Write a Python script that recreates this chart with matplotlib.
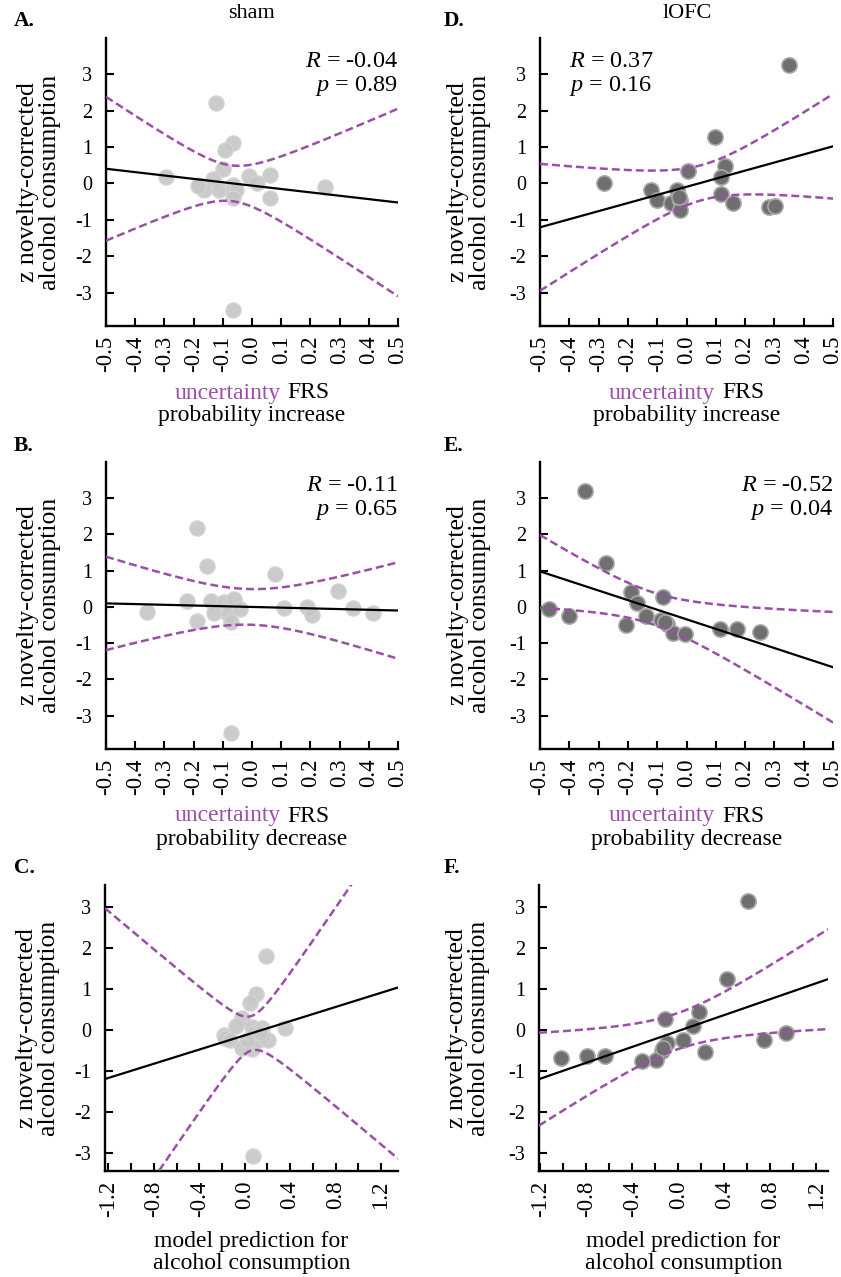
import numpy as np
import matplotlib
matplotlib.use("Agg")
import matplotlib.pyplot as plt
from matplotlib.offsetbox import TextArea, HPacker, AnnotationBbox

plt.rcParams['font.family'] = ['Liberation Serif', 'DejaVu Serif']
plt.rcParams['mathtext.fontset'] = 'custom'
plt.rcParams['mathtext.rm'] = 'Liberation Serif'
plt.rcParams['mathtext.it'] = 'Liberation Serif:italic'
plt.rcParams['axes.unicode_minus'] = False

# sham group
sham_inc_x = [-0.123, -0.065, -0.094, -0.100, -0.294, -0.134, -0.180, -0.163, -0.186, -0.113,
              -0.065, -0.065, -0.054, -0.065, -0.010, 0.018, 0.061, 0.061, 0.250, -0.065]
sham_inc_y = [2.21, 1.10, 0.92, 0.41, 0.18, 0.12, -0.05, -0.18, -0.07, -0.18,
              -0.05, -0.18, -0.17, -0.41, 0.21, 0.00, 0.23, -0.41, -0.11, -3.48]
sham_dec_x = [-0.190, -0.153, 0.080, 0.295, -0.224, -0.142, -0.097, -0.063, -0.361, -0.131,
              -0.083, -0.042, -0.072, -0.190, 0.108, 0.188, 0.207, 0.347, 0.415, -0.072]
sham_dec_y = [2.19, 1.14, 0.90, 0.44, 0.17, 0.17, 0.14, 0.21, -0.14, -0.17,
              -0.20, -0.06, -0.42, -0.40, -0.03, 0.00, -0.23, -0.03, -0.17, -3.47]
sham_mod_x = [0.186, 0.099, 0.049, -0.023, -0.075, 0.064, 0.151, -0.183, -0.177, -0.125,
              -0.023, 0.064, 0.122, 0.209, 0.078, 0.165, 0.359, 0.070, 0.020, 0.136]
sham_mod_y = [1.81, 0.88, 0.67, 0.30, 0.10, 0.08, 0.04, -0.12, -0.19, -0.24,
              -0.43, -0.45, -0.24, -0.23, -0.08, -0.15, 0.06, -3.07, -0.24, -0.08]

# lOFC group
lofc_inc_x = [0.349, 0.097, 0.132, 0.118, 0.006, -0.281, -0.120, -0.100, -0.031, -0.052,
              -0.021, -0.021, 0.118, 0.158, 0.281, 0.301, -0.026]
lofc_inc_y = [3.25, 1.27, 0.48, 0.18, 0.34, 0.00, -0.18, -0.46, -0.18, -0.55,
              -0.46, -0.74, -0.29, -0.55, -0.66, -0.63, -0.37]
lofc_dec_x = [-0.346, -0.274, -0.468, -0.400, -0.188, -0.170, -0.205, -0.137, -0.080, -0.088,
              -0.065, -0.046, -0.006, 0.114, 0.174, 0.252, -0.074]
lofc_dec_y = [3.19, 1.21, -0.05, -0.25, 0.41, 0.11, -0.51, -0.25, 0.28, -0.35,
              -0.46, -0.72, -0.76, -0.62, -0.62, -0.69, -0.41]
lofc_mod_x = [0.609, 0.420, 0.183, 0.130, -0.116, 0.043, -0.096, -0.145, -0.194, -0.313,
              0.232, 0.748, 0.936, -1.020, -0.797, -0.638, -0.130]
lofc_mod_y = [3.14, 1.24, 0.45, 0.10, 0.28, -0.24, -0.32, -0.51, -0.73, -0.75,
              -0.53, -0.24, -0.06, -0.67, -0.62, -0.62, -0.43]

stats_text = {'A': ('-0.04', '0.89'), 'D': ('0.37', '0.16'),
              'B': ('-0.11', '0.65'), 'E': ('-0.52', '0.04')}

PURPLE = '#9b4fa9'
W, H = 841, 1277
LABEL_FS = 17
YLABEL_FS = 18.5


def frac(left, top, right, bottom):
    return [left / W, 1 - bottom / H, (right - left) / W, (bottom - top) / H]


def fit_band(ax, x, y, xlim):
    x = np.asarray(x)
    y = np.asarray(y)
    n = len(x)
    slope, icpt = np.polyfit(x, y, 1)
    resid = y - (slope * x + icpt)
    s = np.sqrt(np.sum(resid ** 2) / (n - 2))
    sxx = np.sum((x - x.mean()) ** 2)
    t = 2.10 if n > 18 else 2.13
    xs = np.linspace(xlim[0], xlim[1], 200)
    yh = slope * xs + icpt
    half = t * s * np.sqrt(1 / n + (xs - x.mean()) ** 2 / sxx)
    ax.plot(xs, yh, color='black', lw=1.6, zorder=3)
    ax.plot(xs, yh + half, color=PURPLE, lw=1.8, ls=(0, (3.2, 1.6)), zorder=3)
    ax.plot(xs, yh - half, color=PURPLE, lw=1.8, ls=(0, (3.2, 1.6)), zorder=3)


def panel(rect, x, y, sham, xlim, ylim, xticks, xticklabels, kind, stats=None,
          stats_left=False, ylab_x=-0.228):
    ax = fig.add_axes(rect)
    if sham:
        ax.scatter(x, y, s=120, color='#c6c6c6', edgecolor='#d4d4d4', lw=1, alpha=0.9, zorder=2)
    else:
        ax.scatter(x, y, s=120, color='#6f6f6f', edgecolor='#a8a8a8', lw=1.2, zorder=2)
    fit_band(ax, x, y, xlim)
    ax.set_xlim(*xlim)
    ax.set_ylim(*ylim)
    for sp in ['top', 'right']:
        ax.spines[sp].set_visible(False)
    for sp in ['left', 'bottom']:
        ax.spines[sp].set_linewidth(1.7)
    ax.set_yticks([-3, -2, -1, 0, 1, 2, 3])
    ax.set_xticks(xticks)
    ax.set_xticklabels(xticklabels, rotation=90, fontsize=16.5)
    ax.tick_params(axis='both', direction='in', length=6, width=1.5)
    ax.tick_params(axis='y', labelsize=14.5, pad=10)
    ax.tick_params(axis='x', pad=7)
    ax.text(ylab_x, 0.5, 'z novelty-corrected\nalcohol consumption', rotation=90,
            ha='center', va='center', fontsize=YLABEL_FS, linespacing=1.0, transform=ax.transAxes)
    if kind == 'model':
        ax.annotate('model prediction for', (0.5, 0), xycoords='axes fraction',
                    xytext=(0, -70), textcoords='offset pixels', ha='center', va='center',
                    fontsize=LABEL_FS)
        ax.annotate('alcohol consumption', (0.5, 0), xycoords='axes fraction',
                    xytext=(0, -92), textcoords='offset pixels', ha='center', va='center',
                    fontsize=LABEL_FS)
    else:
        parts = HPacker(children=[TextArea('uncertainty', textprops=dict(color=PURPLE, fontsize=LABEL_FS)),
                                  TextArea('FRS', textprops=dict(color='black', fontsize=LABEL_FS))],
                        align='baseline', pad=0, sep=5)
        ab = AnnotationBbox(parts, (0.5, 0), xycoords='axes fraction', xybox=(0, -67),
                            boxcoords='offset pixels', box_alignment=(0.5, 0.5), frameon=False)
        ax.add_artist(ab)
        ax.annotate('probability ' + kind, (0.5, 0), xycoords='axes fraction',
                    xytext=(0, -90), textcoords='offset pixels', ha='center', va='center',
                    fontsize=LABEL_FS)
    if stats:
        r, p = stats
        txt = '$R$ = ' + r + '\n$p$ = ' + p
        if stats_left:
            ax.text(0.1, 0.955, txt, ha='left', va='top', fontsize=17.5,
                    linespacing=1.1, transform=ax.transAxes)
        else:
            ax.text(1.0, 0.955, txt, ha='right', va='top', fontsize=17.5,
                    linespacing=1.1, multialignment='right', transform=ax.transAxes)
    return ax


fig = plt.figure(figsize=(W / 100, H / 100), dpi=100)

frs_ticks = [-0.5, -0.4, -0.3, -0.2, -0.1, 0.0, 0.1, 0.2, 0.3, 0.4, 0.5]
frs_labels = ['%.1f' % v for v in frs_ticks]
mod_ticks = [-1.2, -1.0, -0.8, -0.6, -0.4, -0.2, 0.0, 0.2, 0.4, 0.6, 0.8, 1.0, 1.2]
mod_labels = ['%.1f' % v if i % 2 == 0 else '' for i, v in enumerate(mod_ticks)]

frs_lim = (-0.5, 0.5)
frs_ylim = (-3.92, 4.0)
mod_ylim = (-3.43, 3.53)

panel(frac(106, 38, 398, 326), sham_inc_x, sham_inc_y, True, frs_lim, frs_ylim,
      frs_ticks, frs_labels, 'increase', stats_text['A'])
panel(frac(540, 38, 833, 326), lofc_inc_x, lofc_inc_y, False, frs_lim, frs_ylim,
      frs_ticks, frs_labels, 'increase', stats_text['D'], stats_left=True, ylab_x=-0.244)
panel(frac(106, 462, 398, 749), sham_dec_x, sham_dec_y, True, frs_lim, frs_ylim,
      frs_ticks, frs_labels, 'decrease', stats_text['B'])
panel(frac(540, 462, 833, 749), lofc_dec_x, lofc_dec_y, False, frs_lim, frs_ylim,
      frs_ticks, frs_labels, 'decrease', stats_text['E'], ylab_x=-0.244)
panel(frac(105, 885, 398, 1171), sham_mod_x, sham_mod_y, True, (-1.23, 1.35), mod_ylim,
      mod_ticks, mod_labels, 'model')
panel(frac(539, 885, 828, 1171), lofc_mod_x, lofc_mod_y, False, (-1.21, 1.30), mod_ylim,
      mod_ticks, mod_labels, 'model', ylab_x=-0.247)

for letter, px, py in [('A.', 14, 21), ('D.', 444, 21), ('B.', 14, 446), ('E.', 444, 446),
                       ('C.', 14, 868), ('F.', 444, 868)]:
    fig.text(px / W, 1 - py / H, letter, fontsize=15.5, fontweight='bold', ha='left', va='center')
fig.text(252 / W, 1 - 14 / H, 'sham', fontsize=16, ha='center', va='center')
fig.text(687 / W, 1 - 14 / H, 'lOFC', fontsize=16, ha='center', va='center')

fig.savefig('out.png', dpi=100)
